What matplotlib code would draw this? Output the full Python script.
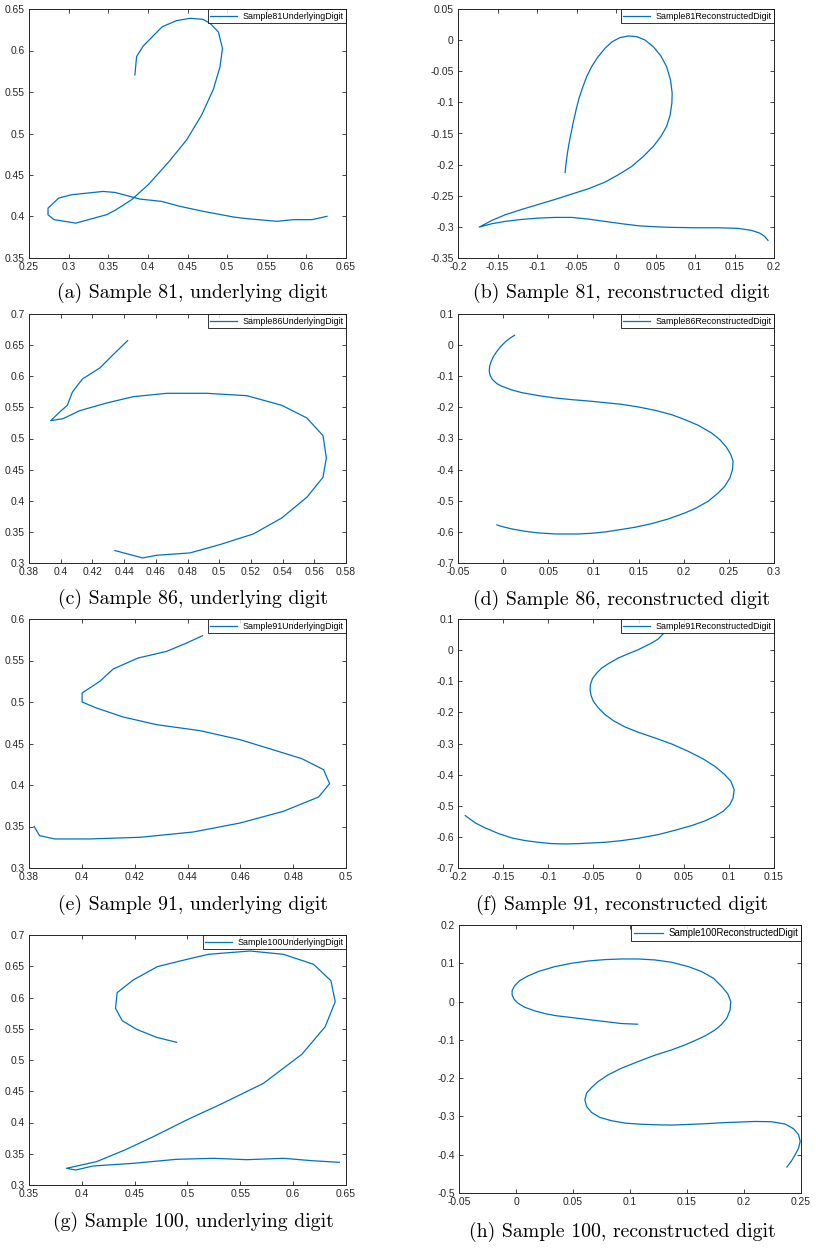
import numpy as np
import matplotlib
matplotlib.use("Agg")
import matplotlib.pyplot as plt
from matplotlib.ticker import FuncFormatter

# ---- data (digit strokes) ----
s81_under_x = [0.3836, 0.3858, 0.3942, 0.4182, 0.4363, 0.4532, 0.4692, 0.4785, 0.4890, 0.4941,
               0.4911, 0.4827, 0.4680, 0.4490, 0.4279, 0.4005, 0.3794, 0.3596, 0.3480, 0.3090,
               0.2816, 0.2740, 0.2740, 0.2875, 0.3035, 0.3436, 0.3584, 0.3900, 0.4174, 0.4406,
               0.4700, 0.5080, 0.5250, 0.5628, 0.5839, 0.6070, 0.6260]
s81_under_y = [0.5706, 0.5927, 0.6055, 0.6287, 0.6360, 0.6388, 0.6376, 0.6328, 0.6223, 0.6027,
               0.5806, 0.5534, 0.5225, 0.4924, 0.4675, 0.4383, 0.4202, 0.4080, 0.4022, 0.3920,
               0.3962, 0.4020, 0.4100, 0.4222, 0.4262, 0.4302, 0.4290, 0.4210, 0.4182, 0.4122,
               0.4062, 0.3994, 0.3974, 0.3942, 0.3962, 0.3962, 0.4002]

s81_recon_x = [-0.0644, -0.0632, -0.0615, -0.0594, -0.0569, -0.0539, -0.0505, -0.0468, -0.0421, -0.0371,
               -0.0308, -0.0232, -0.0139, -0.0047, 0.0050, 0.0156, 0.0261, 0.0366, 0.0471, 0.0568,
               0.0640, 0.0690, 0.0711, 0.0707, 0.0686, 0.0640, 0.0568, 0.0471, 0.0345, 0.0198,
               0.0029, -0.0139, -0.0350, -0.0560, -0.0771, -0.0981, -0.1192, -0.1402, -0.1571, -0.1731,
               -0.1571, -0.1402, -0.1192, -0.0981, -0.0771, -0.0560, -0.0350, -0.0139, 0.0071, 0.0282,
               0.0492, 0.0703, 0.0998, 0.1292, 0.1545, 0.1713, 0.1818, 0.1882, 0.1924]
s81_recon_y = [-0.2126, -0.1976, -0.1816, -0.1655, -0.1495, -0.1308, -0.1120, -0.0933, -0.0757, -0.0586,
               -0.0425, -0.0275, -0.0131, -0.0024, 0.0040, 0.0067, 0.0056, 0.0003, -0.0104, -0.0254,
               -0.0425, -0.0639, -0.0853, -0.1013, -0.1201, -0.1388, -0.1548, -0.1709, -0.1869, -0.2030,
               -0.2163, -0.2281, -0.2388, -0.2473, -0.2559, -0.2639, -0.2719, -0.2805, -0.2896, -0.3003,
               -0.2949, -0.2912, -0.2880, -0.2859, -0.2848, -0.2848, -0.2875, -0.2912, -0.2949, -0.2982,
               -0.2998, -0.3008, -0.3014, -0.3014, -0.3024, -0.3056, -0.3099, -0.3153, -0.3217]

s86_under_x = [0.4422, 0.4331, 0.4247, 0.4137, 0.4074, 0.4042, 0.3994, 0.3937, 0.4015, 0.4120,
               0.4289, 0.4458, 0.4668, 0.4921, 0.5174, 0.5395, 0.5553, 0.5655, 0.5676, 0.5655,
               0.5553, 0.5395, 0.5216, 0.5005, 0.4816, 0.4605, 0.4517, 0.4342]
s86_under_y = [0.6572, 0.6347, 0.6133, 0.5956, 0.5747, 0.5533, 0.5426, 0.5287, 0.5319, 0.5447,
               0.5570, 0.5672, 0.5726, 0.5726, 0.5688, 0.5533, 0.5330, 0.5046, 0.4687, 0.4377,
               0.4056, 0.3724, 0.3467, 0.3296, 0.3162, 0.3124, 0.3081, 0.3200]

s86_recon_x = [0.0126, 0.0079, 0.0023, -0.0025, -0.0069, -0.0106, -0.0132, -0.0150, -0.0154, -0.0143,
               -0.0117, -0.0069, -0.0014, 0.0097, 0.0208, 0.0392, 0.0576, 0.0760, 0.0945, 0.1129,
               0.1313, 0.1497, 0.1682, 0.1866, 0.2013, 0.2161, 0.2308, 0.2400, 0.2474, 0.2522,
               0.2547, 0.2540, 0.2511, 0.2455, 0.2382, 0.2271, 0.2124, 0.2013, 0.1829, 0.1645,
               0.1460, 0.1276, 0.1129, 0.0981, 0.0834, 0.0723, 0.0576, 0.0392, 0.0244, 0.0097,
               0.0005, -0.0069]
s86_recon_y = [0.0315, 0.0229, 0.0101, -0.0039, -0.0199, -0.0360, -0.0520, -0.0681, -0.0842, -0.0981,
               -0.1109, -0.1238, -0.1323, -0.1441, -0.1527, -0.1623, -0.1698, -0.1752, -0.1795, -0.1848,
               -0.1902, -0.1987, -0.2094, -0.2234, -0.2394, -0.2576, -0.2822, -0.3037, -0.3283, -0.3518,
               -0.3732, -0.4000, -0.4268, -0.4535, -0.4750, -0.5017, -0.5253, -0.5392, -0.5585, -0.5735,
               -0.5852, -0.5938, -0.6002, -0.6045, -0.6067, -0.6067, -0.6067, -0.6034, -0.5981, -0.5906,
               -0.5842, -0.5778]

s91_under_x = [0.4457, 0.4397, 0.4321, 0.4213, 0.4119, 0.4068, 0.4001, 0.4001, 0.4055, 0.4157,
               0.4283, 0.4447, 0.4599, 0.4763, 0.4833, 0.4915, 0.4938, 0.4896, 0.4763, 0.4599,
               0.4422, 0.4220, 0.4030, 0.3897, 0.3840, 0.3819]
s91_under_y = [0.5799, 0.5711, 0.5610, 0.5530, 0.5398, 0.5249, 0.5108, 0.5000, 0.4928, 0.4819,
               0.4727, 0.4655, 0.4546, 0.4386, 0.4317, 0.4185, 0.4016, 0.3855, 0.3683, 0.3542,
               0.3434, 0.3370, 0.3350, 0.3350, 0.3390, 0.3502]

s91_recon_x = [0.0274, 0.0218, 0.0145, 0.0071, -0.0003, -0.0113, -0.0224, -0.0334, -0.0408, -0.0463,
               -0.0511, -0.0533, -0.0537, -0.0526, -0.0500, -0.0445, -0.0371, -0.0279, -0.0150, -0.0003,
               0.0182, 0.0366, 0.0550, 0.0716, 0.0845, 0.0955, 0.1022, 0.1059, 0.1047, 0.1011,
               0.0937, 0.0845, 0.0734, 0.0587, 0.0403, 0.0218, -0.0003, -0.0187, -0.0371, -0.0519,
               -0.0666, -0.0813, -0.0961, -0.1108, -0.1256, -0.1403, -0.1550, -0.1698, -0.1808, -0.1919]
s91_recon_y = [0.0529, 0.0358, 0.0229, 0.0122, 0.0015, -0.0114, -0.0253, -0.0435, -0.0574, -0.0735,
               -0.0917, -0.1109, -0.1270, -0.1463, -0.1645, -0.1859, -0.2073, -0.2266, -0.2469, -0.2640,
               -0.2822, -0.3015, -0.3251, -0.3497, -0.3733, -0.4000, -0.4214, -0.4482, -0.4750, -0.4964,
               -0.5178, -0.5339, -0.5488, -0.5638, -0.5788, -0.5927, -0.6045, -0.6120, -0.6174, -0.6195,
               -0.6217, -0.6227, -0.6217, -0.6174, -0.6120, -0.6034, -0.5895, -0.5713, -0.5553, -0.5317]

s100_under_x = [0.4897, 0.4707, 0.4518, 0.4382, 0.4319, 0.4334, 0.4486, 0.4714, 0.4929, 0.5197,
                0.5592, 0.5908, 0.6193, 0.6357, 0.6398, 0.6303, 0.6082, 0.5719, 0.5333, 0.4992,
                0.4676, 0.4407, 0.4138, 0.3854, 0.3942, 0.4107, 0.4486, 0.4897, 0.5245, 0.5560,
                0.5908, 0.6177, 0.6436]
s100_under_y = [0.5283, 0.5363, 0.5491, 0.5629, 0.5827, 0.6077, 0.6280, 0.6493, 0.6584, 0.6691,
                0.6744, 0.6691, 0.6531, 0.6269, 0.5933, 0.5533, 0.5091, 0.4627, 0.4307, 0.4040,
                0.3773, 0.3560, 0.3373, 0.3267, 0.3240, 0.3304, 0.3347, 0.3411, 0.3427, 0.3405,
                0.3427, 0.3389, 0.3363]

s100_recon_x = [0.1067, 0.0926, 0.0780, 0.0634, 0.0487, 0.0341, 0.0253, 0.0165, 0.0077, 0.0018,
                -0.0017, -0.0034, -0.0034, -0.0011, 0.0033, 0.0106, 0.0194, 0.0341, 0.0487, 0.0634,
                0.0780, 0.0926, 0.1073, 0.1219, 0.1366, 0.1512, 0.1629, 0.1732, 0.1805, 0.1858,
                0.1884, 0.1878, 0.1849, 0.1799, 0.1747, 0.1659, 0.1571, 0.1483, 0.1366, 0.1219,
                0.1073, 0.0926, 0.0809, 0.0721, 0.0663, 0.0619, 0.0604, 0.0619, 0.0663, 0.0736,
                0.0839, 0.0956, 0.1073, 0.1219, 0.1366, 0.1512, 0.1659, 0.1805, 0.1952, 0.2098,
                0.2244, 0.2362, 0.2435, 0.2479, 0.2493, 0.2479, 0.2449, 0.2414, 0.2376]
s100_recon_y = [-0.0591, -0.0574, -0.0522, -0.0470, -0.0417, -0.0365, -0.0313, -0.0244, -0.0148, -0.0044,
                0.0061, 0.0174, 0.0287, 0.0417, 0.0548, 0.0670, 0.0783, 0.0913, 0.1000, 0.1061,
                0.1096, 0.1113, 0.1113, 0.1087, 0.1026, 0.0913, 0.0783, 0.0609, 0.0391, 0.0200,
                0.0000, -0.0217, -0.0435, -0.0609, -0.0739, -0.0896, -0.1018, -0.1131, -0.1261, -0.1400,
                -0.1565, -0.1739, -0.1913, -0.2087, -0.2244, -0.2391, -0.2565, -0.2739, -0.2896, -0.3026,
                -0.3113, -0.3174, -0.3200, -0.3218, -0.3226, -0.3209, -0.3191, -0.3165, -0.3148, -0.3131,
                -0.3139, -0.3200, -0.3322, -0.3478, -0.3652, -0.3826, -0.4000, -0.4174, -0.4322]

legend_labels = ["Sample81UnderlyingDigit", "Sample81ReconstructedDigit",
                 "Sample86UnderlyingDigit", "Sample86ReconstructedDigit",
                 "Sample91UnderlyingDigit", "Sample91ReconstructedDigit",
                 "Sample100UnderlyingDigit", "Sample100ReconstructedDigit"]
captions = ["(a) Sample 81, underlying digit", "(b) Sample 81, reconstructed digit",
            "(c) Sample 86, underlying digit", "(d) Sample 86, reconstructed digit",
            "(e) Sample 91, underlying digit", "(f) Sample 91, reconstructed digit",
            "(g) Sample 100, underlying digit", "(h) Sample 100, reconstructed digit"]

series = [(s81_under_x, s81_under_y), (s81_recon_x, s81_recon_y),
          (s86_under_x, s86_under_y), (s86_recon_x, s86_recon_y),
          (s91_under_x, s91_under_y), (s91_recon_x, s91_recon_y),
          (s100_under_x, s100_under_y), (s100_recon_x, s100_recon_y)]

# axis limits and tick steps: (xmin, xmax, xstep, ymin, ymax, ystep)
limits = [(0.25, 0.65, 0.05, 0.35, 0.65, 0.05),
          (-0.2, 0.2, 0.05, -0.35, 0.05, 0.05),
          (0.38, 0.58, 0.02, 0.3, 0.7, 0.05),
          (-0.05, 0.3, 0.05, -0.7, 0.1, 0.1),
          (0.38, 0.5, 0.02, 0.3, 0.6, 0.05),
          (-0.2, 0.15, 0.05, -0.7, 0.1, 0.1),
          (0.35, 0.65, 0.05, 0.3, 0.7, 0.05),
          (-0.05, 0.25, 0.05, -0.5, 0.2, 0.1)]

# ---- layout in pixels (left, right, top, bottom) and caption centers ----
W, H = 816, 1249
boxes = [(29, 346, 9, 258), (458, 774, 9, 258),
         (29, 346, 314, 563), (458, 774, 314, 563),
         (29, 346, 619, 868), (458, 774, 619, 868),
         (29, 346, 935, 1185), (459, 801, 925, 1193)]
cap_pos = [(193, 293), (622, 293), (193, 599), (622, 600),
           (193, 905), (622, 905), (193, 1222), (622, 1232)]

plt.rcParams['axes.unicode_minus'] = False
plt.rcParams['font.family'] = 'Liberation Sans'

MATLAB_BLUE = '#0072BD'
DARK = '#262626'


def tick_fmt(v, pos):
    v = round(v, 4) + 0.0
    return f"{v:g}"


fig = plt.figure(figsize=(W / 100, H / 100), dpi=100)

for i, ((x, y), (l, r, t, b)) in enumerate(zip(series, boxes)):
    ax = fig.add_axes([l / W, 1 - b / H, (r - l) / W, (b - t) / H])
    ax.plot(x, y, color=MATLAB_BLUE, lw=0.9, label=legend_labels[i])
    x0, x1, xs, y0, y1, ys = limits[i]
    ax.set_xlim(x0, x1)
    ax.set_ylim(y0, y1)
    ax.set_xticks(np.round(np.arange(x0, x1 + xs / 2, xs), 4))
    ax.set_yticks(np.round(np.arange(y0, y1 + ys / 2, ys), 4))
    ax.xaxis.set_major_formatter(FuncFormatter(tick_fmt))
    ax.yaxis.set_major_formatter(FuncFormatter(tick_fmt))
    ax.tick_params(direction='in', top=True, right=True, length=3, width=0.6,
                   labelsize=7.4, colors=DARK, pad=3)
    for sp in ax.spines.values():
        sp.set_color(DARK)
        sp.set_linewidth(0.7)
    leg = ax.legend(loc='upper right', borderaxespad=0, fancybox=False,
                    fontsize=6.9 if i == 7 else 6.4, handlelength=3.0,
                    borderpad=0.3, handletextpad=0.6)
    leg.get_frame().set_edgecolor('black')
    leg.get_frame().set_linewidth(0.7)
    cx, cy = cap_pos[i]
    fig.text(cx / W, 1 - cy / H, captions[i], family='cmr10', fontsize=14.3,
             ha='center', va='center', color='black')

fig.savefig('out.png', dpi=100)
